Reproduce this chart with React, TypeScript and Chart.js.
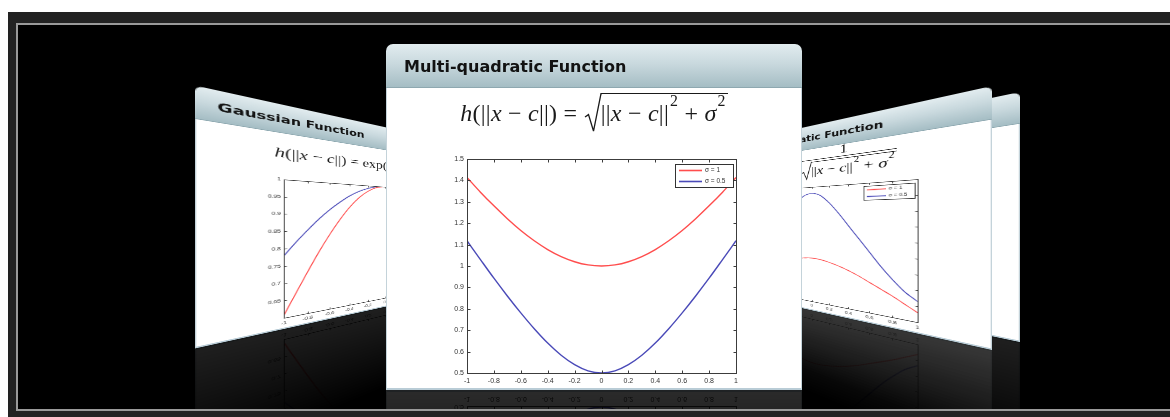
import React, { useEffect, useRef } from 'react';
import { Chart, registerables } from 'chart.js';

Chart.register(...registerables);

// Sample positions along the x axis (shared by every plot)
const xSamples = [-1, -0.9, -0.8, -0.7, -0.6, -0.5, -0.4, -0.3, -0.2, -0.1, 0, 0.1, 0.2, 0.3, 0.4, 0.5, 0.6, 0.7, 0.8, 0.9, 1];

// Multi-quadratic function values
const mqSigma1 = [1.414, 1.345, 1.281, 1.221, 1.166, 1.118, 1.077, 1.044, 1.02, 1.005, 1.0, 1.005, 1.02, 1.044, 1.077, 1.118, 1.166, 1.221, 1.281, 1.345, 1.414];
const mqSigma05 = [1.118, 1.03, 0.943, 0.86, 0.781, 0.707, 0.64, 0.583, 0.539, 0.51, 0.5, 0.51, 0.539, 0.583, 0.64, 0.707, 0.781, 0.86, 0.943, 1.03, 1.118];

// Gaussian function values
const gaussRed = [0.607, 0.667, 0.726, 0.783, 0.835, 0.882, 0.923, 0.956, 0.98, 0.995, 1.0, 0.995, 0.98, 0.956, 0.923, 0.882, 0.835, 0.783, 0.726, 0.667, 0.607];
const gaussBlue = [0.779, 0.817, 0.852, 0.885, 0.914, 0.939, 0.961, 0.978, 0.99, 0.998, 1.0, 0.998, 0.99, 0.978, 0.961, 0.939, 0.914, 0.885, 0.852, 0.817, 0.779];

// Inverse multi-quadratic function values
const imqRed = [0.76, 0.8, 0.84, 0.875, 0.91, 0.945, 0.975, 1.0, 1.02, 1.035, 1.04, 1.035, 1.02, 1.0, 0.975, 0.945, 0.91, 0.875, 0.84, 0.8, 0.76];
const imqBlue = [0.83, 0.88, 0.95, 1.03, 1.12, 1.21, 1.3, 1.39, 1.47, 1.53, 1.55, 1.53, 1.47, 1.39, 1.3, 1.21, 1.12, 1.03, 0.95, 0.88, 0.83];

// Tick values
const xTicks = [-1, -0.8, -0.6, -0.4, -0.2, 0, 0.2, 0.4, 0.6, 0.8, 1];
const mqYTicks = [0.5, 0.6, 0.7, 0.8, 0.9, 1, 1.1, 1.2, 1.3, 1.4, 1.5];
const gaussYTicks = [0.65, 0.7, 0.75, 0.8, 0.85, 0.9, 0.95, 1];
const imqYTicks = [0.7, 0.8, 0.9, 1, 1.1, 1.2, 1.3, 1.4, 1.5, 1.6];

const legendLabels = ['σ = 1', 'σ = 0.5'];
const RED = '#ff4d4d';
const BLUE = '#4a4ab8';

// Draws the boxed axes with inward ticks and the small legend in the top-right corner
const boxAndLegend = {
  id: 'boxAndLegend',
  afterDatasetsDraw(chart: any) {
    const { ctx, chartArea: a, scales } = chart;
    ctx.save();
    ctx.strokeStyle = '#3c3c3c';
    ctx.lineWidth = 1;
    const l = Math.round(a.left) + 0.5;
    const t = Math.round(a.top) + 0.5;
    const r = Math.round(a.right) + 0.5;
    const b = Math.round(a.bottom) + 0.5;
    ctx.strokeRect(l, t, r - l, b - t);
    ctx.beginPath();
    scales.x.ticks.forEach((tk: any) => {
      const px = Math.round(scales.x.getPixelForValue(tk.value)) + 0.5;
      ctx.moveTo(px, b); ctx.lineTo(px, b - 3);
      ctx.moveTo(px, t); ctx.lineTo(px, t + 3);
    });
    scales.y.ticks.forEach((tk: any) => {
      const py = Math.round(scales.y.getPixelForValue(tk.value)) + 0.5;
      ctx.moveTo(l, py); ctx.lineTo(l + 3, py);
      ctx.moveTo(r, py); ctx.lineTo(r - 3, py);
    });
    ctx.stroke();

    const bw = 58;
    const bh = 23;
    const bx = Math.round(a.right) - 3 - bw;
    const by = Math.round(a.top) + 5;
    ctx.fillStyle = '#fff';
    ctx.fillRect(bx, by, bw, bh);
    ctx.strokeStyle = '#333';
    ctx.strokeRect(bx + 0.5, by + 0.5, bw, bh);
    chart.data.datasets.forEach((ds: any, i: number) => {
      const y = by + 6.5 + i * 11;
      ctx.strokeStyle = ds.borderColor;
      ctx.lineWidth = 1.6;
      ctx.beginPath();
      ctx.moveTo(bx + 4, y);
      ctx.lineTo(bx + 27, y);
      ctx.stroke();
      ctx.fillStyle = '#333';
      ctx.font = '6.5px "Liberation Sans", Arial, sans-serif';
      ctx.textBaseline = 'middle';
      ctx.fillText(ds.label, bx + 30, y);
    });
    ctx.restore();
  },
};

type PlotProps = {
  red: number[];
  blue: number[];
  yMin: number;
  yMax: number;
  yTicks: number[];
};

function FunctionPlot({ red, blue, yMin, yMax, yTicks }: PlotProps) {
  const ref = useRef<HTMLCanvasElement>(null);
  useEffect(() => {
    const tickFont = { family: '"Liberation Sans", Arial, sans-serif', size: 7 };
    const chart = new Chart(ref.current as HTMLCanvasElement, {
      type: 'line',
      data: {
        datasets: [
          { label: legendLabels[0], data: xSamples.map((x, i) => ({ x, y: red[i] })), borderColor: RED, borderWidth: 1.4, pointRadius: 0, fill: false, cubicInterpolationMode: 'monotone' },
          { label: legendLabels[1], data: xSamples.map((x, i) => ({ x, y: blue[i] })), borderColor: BLUE, borderWidth: 1.4, pointRadius: 0, fill: false, cubicInterpolationMode: 'monotone' },
        ],
      },
      options: {
        animation: false,
        responsive: false,
        devicePixelRatio: 1,
        layout: { padding: { top: 9, right: 14, left: 0, bottom: 0 } },
        plugins: { legend: { display: false }, tooltip: { enabled: false } },
        scales: {
          x: {
            type: 'linear',
            min: -1,
            max: 1,
            afterBuildTicks: (s: any) => { s.ticks = xTicks.map((v) => ({ value: v })); },
            afterFit: (s: any) => { s.height = 17; },
            grid: { display: false, drawTicks: false },
            border: { display: false },
            ticks: { font: tickFont, color: '#333', padding: 4, maxRotation: 0, autoSkip: false, callback: (v: any) => String(v) },
          },
          y: {
            type: 'linear',
            min: yMin,
            max: yMax,
            afterBuildTicks: (s: any) => { s.ticks = yTicks.map((v) => ({ value: v })); },
            afterFit: (s: any) => { s.width = 37; },
            grid: { display: false, drawTicks: false },
            border: { display: false },
            ticks: { font: tickFont, color: '#333', padding: 3, autoSkip: false, callback: (v: any) => String(v) },
          },
        },
      } as any,
      plugins: [boxAndLegend],
    });
    return () => chart.destroy();
  }, []);
  return (
    <canvas
      ref={ref}
      width={320}
      height={240}
      style={{ position: 'absolute', left: 44, top: 106, width: 320, height: 240 }}
    />
  );
}

// Formula helpers
const V = ({ children }: { children: React.ReactNode }) => <span style={{ fontStyle: 'italic' }}>{children}</span>;
const Sup = ({ children }: { children: React.ReactNode }) => (
  <span style={{ fontSize: '0.66em', position: 'relative', top: '-0.95em', marginLeft: 1 }}>{children}</span>
);

function Sqrt({ children, padTop = 6, padBottom = 4.5 }: { children: React.ReactNode; padTop?: number; padBottom?: number }) {
  return (
    <span style={{ display: 'inline-block', position: 'relative', paddingLeft: 17 }}>
      <svg
        viewBox="0 0 18 40"
        preserveAspectRatio="none"
        style={{ position: 'absolute', left: 0, top: 0, width: 18, height: '100%', overflow: 'visible' }}
      >
        <path d="M1 25 L4.5 22.5 L9.5 39.5 L17 0.6 L18 0.6" fill="none" stroke="#1a1a1a" strokeWidth={1.3} vectorEffect="non-scaling-stroke" />
      </svg>
      <span style={{ display: 'inline-block', borderTop: '1.3px solid #1a1a1a', paddingTop: padTop, paddingBottom: padBottom, paddingRight: 2 }}>
        {children}
      </span>
    </span>
  );
}

const Norm = () => (
  <>||<V>x</V>&nbsp;−&nbsp;<V>c</V>||</>
);

const formulaBase: React.CSSProperties = {
  position: 'absolute',
  left: 0,
  width: 416,
  textAlign: 'center',
  fontFamily: '"Liberation Serif", "DejaVu Serif", serif',
  color: '#1a1a1a',
  whiteSpace: 'nowrap',
};

const multiQuadFormula = (
  <div style={{ ...formulaBase, top: 49, fontSize: 24, letterSpacing: 0.25 }}>
    <V>h</V>(<Norm />)&nbsp;=&nbsp;<Sqrt><Norm /><Sup>2</Sup>&nbsp;+&nbsp;<V>σ</V><Sup>2</Sup></Sqrt>
  </div>
);

const gaussFormula = (
  <div style={{ ...formulaBase, top: 61, fontSize: 22 }}>
    <V>h</V>(<Norm />)&nbsp;=&nbsp;exp(−<Norm /><Sup>2</Sup>/2<V>σ</V><Sup>2</Sup>)
  </div>
);

const inverseFormula = (
  <div style={{ ...formulaBase, top: 42, fontSize: 22 }}>
    <V>h</V>(<Norm />)&nbsp;=&nbsp;
    <span style={{ display: 'inline-block', verticalAlign: '29px', textAlign: 'center' }}>
      <span style={{ display: 'block', lineHeight: '20px' }}>1</span>
      <span style={{ display: 'block', borderTop: '1.2px solid #1a1a1a', margin: '2px 0 1px' }} />
      <span style={{ display: 'block', paddingTop: 2 }}>
        <Sqrt padTop={3} padBottom={2}><Norm /><Sup>2</Sup>&nbsp;+&nbsp;<V>σ</V><Sup>2</Sup></Sqrt>
      </span>
    </span>
  </div>
);

type SlideProps = {
  title: string;
  style: React.CSSProperties;
  reflect?: number;
  children?: React.ReactNode;
};

function Slide({ title, style, reflect = 0.17, children }: SlideProps) {
  return (
    <div
      style={{
        position: 'absolute',
        width: 416,
        height: 346,
        WebkitBoxReflect: `below 0px linear-gradient(to bottom, transparent 55%, rgba(255,255,255,${reflect}))`,
        ...style,
      } as any}
    >
      <div
        style={{
          position: 'absolute',
          left: 0,
          top: 0,
          width: 416,
          height: 44,
          boxSizing: 'border-box',
          borderRadius: '7px 7px 0 0',
          background: 'linear-gradient(to bottom, #e2ecef 0%, #c9d9de 45%, #a5bdc4 100%)',
          borderBottom: '1px solid #8ea8b0',
        }}
      >
        <div
          style={{
            position: 'absolute',
            left: 18,
            top: 13,
            font: 'bold 16px "DejaVu Sans", Verdana, sans-serif',
            color: '#121212',
            whiteSpace: 'nowrap',
            lineHeight: 'normal',
          }}
        >
          {title}
        </div>
      </div>
      <div
        style={{
          position: 'absolute',
          left: 0,
          top: 44,
          width: 416,
          height: 302,
          boxSizing: 'border-box',
          background: '#fff',
          borderLeft: '1px solid #c4d3da',
          borderRight: '1px solid #c4d3da',
          borderBottom: '2px solid #b9ccd6',
        }}
      />
      {children}
    </div>
  );
}

export default function App() {
  return (
    <div style={{ position: 'absolute', left: 8, top: 12, width: 1162, height: 405, background: '#222', overflow: 'hidden' }}>
      <div
        style={{
          position: 'absolute',
          left: 8,
          top: 11,
          width: 1152,
          height: 384,
          borderLeft: '2px solid #9a9a9a',
          borderTop: '2px solid #9a9a9a',
          borderBottom: '2px solid #9a9a9a',
          background: '#000',
          overflow: 'hidden',
        }}
      >
        <Slide
          title=""
          reflect={0.12}
          style={{ left: 586, top: 19, transformOrigin: '100% 50%', transform: 'perspective(346px) rotateY(-30deg) scale(1.4, 0.723)' }}
        />
        <Slide
          title="Inverse Multi-quadratic Function"
          reflect={0.12}
          style={{ left: 558, top: 20, transformOrigin: '100% 50%', transform: 'perspective(346px) rotateY(-30deg) scale(1.486, 0.763)' }}
        >
          {inverseFormula}
          <FunctionPlot red={imqRed} blue={imqBlue} yMin={0.7} yMax={1.6} yTicks={imqYTicks} />
        </Slide>
        <Slide
          title="Gaussian Function"
          reflect={0.12}
          style={{ left: 177, top: 18.5, transformOrigin: '0% 50%', transform: 'perspective(346px) rotateY(30deg) scale(1.486, 0.76)' }}
        >
          {gaussFormula}
          <FunctionPlot red={gaussRed} blue={gaussBlue} yMin={0.6} yMax={1} yTicks={gaussYTicks} />
        </Slide>
        <Slide title="Multi-quadratic Function" style={{ left: 368, top: 19 }}>
          {multiQuadFormula}
          <FunctionPlot red={mqSigma1} blue={mqSigma05} yMin={0.5} yMax={1.5} yTicks={mqYTicks} />
        </Slide>
      </div>
    </div>
  );
}
